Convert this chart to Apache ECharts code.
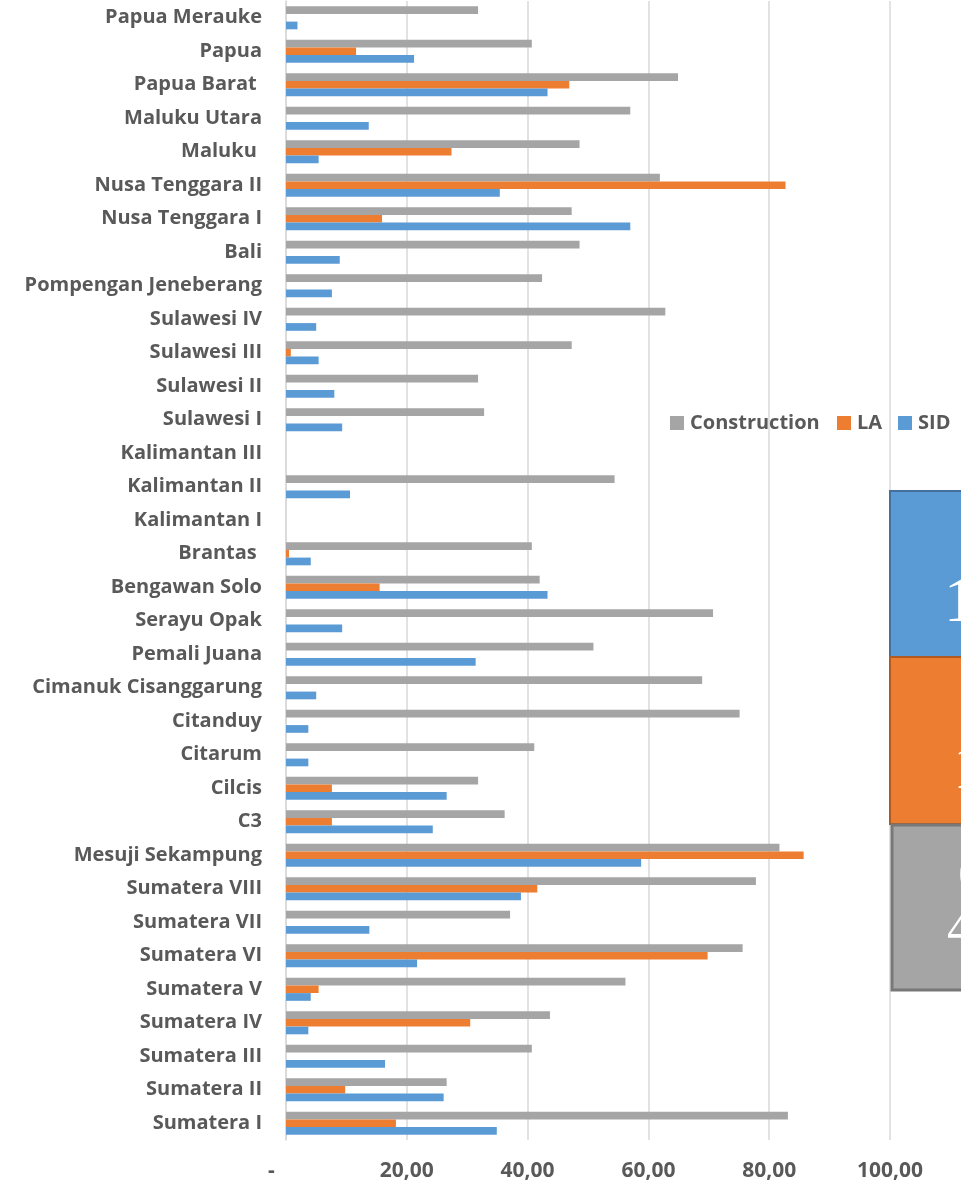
<!DOCTYPE html>
<html>
<head>
<meta charset="utf-8">
<script src="https://cdn.jsdelivr.net/npm/echarts@6/dist/echarts.min.js"></script>
<style>
html,body{margin:0;padding:0;background:#fff;}
#chart{width:961px;height:1189px;}
</style>
</head>
<body>
<div id="chart"></div>
<script>
// Categories, top to bottom as shown
const categories = [
  'Papua Merauke', 'Papua', 'Papua Barat ', 'Maluku Utara', 'Maluku ',
  'Nusa Tenggara II', 'Nusa Tenggara I', 'Bali', 'Pompengan Jeneberang',
  'Sulawesi IV', 'Sulawesi III', 'Sulawesi II', 'Sulawesi I',
  'Kalimantan III', 'Kalimantan II', 'Kalimantan I', 'Brantas ',
  'Bengawan Solo', 'Serayu Opak', 'Pemali Juana', 'Cimanuk Cisanggarung',
  'Citanduy', 'Citarum', 'Cilcis', 'C3', 'Mesuji Sekampung',
  'Sumatera VIII', 'Sumatera VII', 'Sumatera VI', 'Sumatera V',
  'Sumatera IV', 'Sumatera III', 'Sumatera II', 'Sumatera I'
];
const construction = [
  31.8, 40.7, 64.9, 57.0, 48.6,
  61.9, 47.3, 48.6, 42.4,
  62.8, 47.3, 31.8, 32.8,
  null, 54.4, null, 40.7,
  42.0, 70.7, 50.9, 68.9,
  75.1, 41.1, 31.8, 36.2, 81.7,
  77.8, 37.1, 75.6, 56.2,
  43.7, 40.7, 26.6, 83.1
];
const la = [
  null, 11.6, 46.9, null, 27.4,
  82.7, 15.9, null, null,
  null, 0.8, null, null,
  null, null, null, 0.5,
  15.5, null, null, null,
  null, null, 7.6, 7.6, 85.7,
  41.6, null, 69.8, 5.4,
  30.5, null, 9.8, 18.2
];
const sid = [
  1.9, 21.2, 43.3, 13.7, 5.4,
  35.4, 57.0, 8.9, 7.6,
  5.0, 5.4, 8.0, 9.3,
  null, 10.6, null, 4.1,
  43.3, 9.3, 31.4, 5.0,
  3.7, 3.7, 26.6, 24.3, 58.8,
  38.9, 13.8, 21.7, 4.1,
  3.7, 16.4, 26.1, 34.9
];
const xTicks = [0, 20, 40, 60, 80, 100];
const seriesNames = ['Construction', 'LA', 'SID'];
const boxLabels = ['1', '1', '6', '4'];

const FONT = '"Open Sans", "Noto Sans", sans-serif';
const TXT = '#595959';
const COLORS = ['#a5a5a5', '#ed7d31', '#5b9bd5'];

const chart = echarts.init(document.getElementById('chart'), null, {renderer: 'canvas'});

function legendFor(i, left) {
  return {
    data: [seriesNames[i]],
    left: left, top: 413,
    icon: 'rect', itemWidth: 14, itemHeight: 14,
    itemGap: 0, padding: 0,
    selectedMode: false,
    textStyle: {color: TXT, fontFamily: FONT, fontWeight: 'bold', fontSize: 20, padding: [0,0,0,1]}
  };
}

const option = {
  animation: false,
  backgroundColor: '#ffffff',
  color: COLORS,
  grid: {left: 286, right: 71, top: 1, bottom: 49, containLabel: false},
  legend: [legendFor(0, 670), legendFor(1, 837), legendFor(2, 898)],
  xAxis: {
    type: 'value', min: xTicks[0], max: xTicks[xTicks.length - 1], interval: 20,
    axisLine: {show: false}, axisTick: {show: false},
    splitLine: {show: true, lineStyle: {color: '#d9d9d9', width: 1.5}},
    axisLabel: {
      margin: 21, color: TXT, fontFamily: FONT, fontWeight: 'bold', fontSize: 21,
      formatter: function (v) {
        return v === 0 ? '{d|-}' : v.toFixed(2).replace('.', ',');
      },
      rich: {d: {padding: [0, 29, 0, 0], color: TXT, fontFamily: FONT, fontWeight: 'bold', fontSize: 21}}
    }
  },
  yAxis: {
    type: 'category', data: categories, inverse: true,
    axisLine: {show: true, lineStyle: {color: '#d9d9d9', width: 1.5}},
    axisTick: {show: false},
    axisLabel: {margin: 24, color: TXT, fontFamily: FONT, fontWeight: 'bold', fontSize: 20, interval: 0}
  },
  series: [
    {name: seriesNames[0], type: 'bar', data: construction, barGap: '0%', barCategoryGap: '31%'},
    {name: seriesNames[1], type: 'bar', data: la, barGap: '0%', barCategoryGap: '31%'},
    {name: seriesNames[2], type: 'bar', data: sid, barGap: '0%', barCategoryGap: '31%'}
  ],
  graphic: [
    {type: 'rect', z: 100, shape: {x: 890, y: 491, width: 90, height: 166},
     style: {fill: '#5b9bd5', stroke: '#41719c', lineWidth: 2}},
    {type: 'rect', z: 100, shape: {x: 890, y: 657, width: 90, height: 167},
     style: {fill: '#ed7d31', stroke: '#ae5a21', lineWidth: 2}},
    {type: 'rect', z: 100, shape: {x: 892, y: 825, width: 90, height: 165},
     style: {fill: '#a5a5a5', stroke: '#787878', lineWidth: 3}},
    {type: 'text', z: 101, x: 944, y: 604,
     style: {text: boxLabels[0], fill: '#ffffff', font: '64px "Liberation Serif", "DejaVu Serif", serif', textVerticalAlign: 'middle'}},
    {type: 'text', z: 101, x: 953, y: 771,
     style: {text: boxLabels[1], fill: '#ffffff', font: '64px "Liberation Serif", "DejaVu Serif", serif', textVerticalAlign: 'middle'}},
    {type: 'text', z: 101, x: 958, y: 877,
     style: {text: boxLabels[2], fill: '#ffffff', font: '52px "Liberation Serif", "DejaVu Serif", serif', textVerticalAlign: 'middle'}},
    {type: 'text', z: 101, x: 947, y: 931,
     style: {text: boxLabels[3], fill: '#ffffff', font: '52px "Liberation Serif", "DejaVu Serif", serif', textVerticalAlign: 'middle'}}
  ]
};
chart.setOption(option);
</script>
</body>
</html>
